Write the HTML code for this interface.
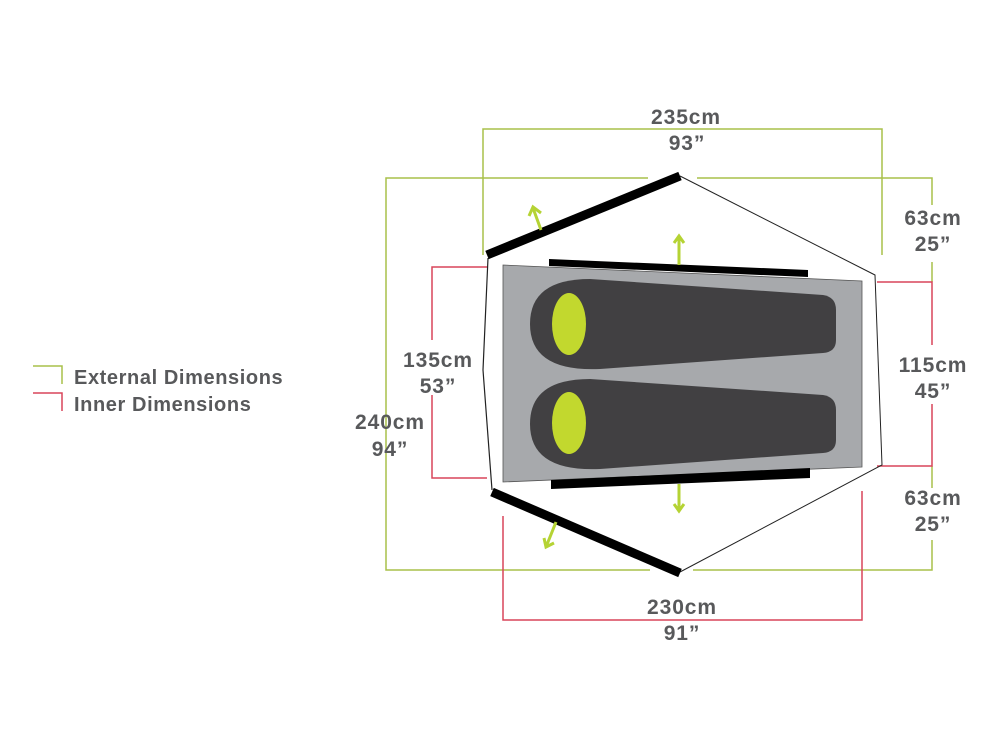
<!DOCTYPE html>
<html><head><meta charset="utf-8"><style>
html,body{margin:0;padding:0;background:#fff;}
svg{display:block;}
text{font-family:"Liberation Sans",sans-serif;font-weight:bold;fill:#58595b;font-size:21px;letter-spacing:0.9px;}
text.lg{font-size:20px;letter-spacing:0.6px;}
</style></head><body>
<svg width="1000" height="739" viewBox="0 0 1000 739">
<g fill="none" stroke="#a9c04a" stroke-width="1.5">
<polyline points="648,178 386,178 386,570 650,570"/>
<polyline points="697,178 932,178 932,205"/>
<line x1="932" y1="262" x2="932" y2="282"/>
<line x1="932" y1="488" x2="932" y2="466"/>
<polyline points="693,570 932,570 932,540"/>
<polyline points="483,255 483,129 882,129 882,255"/>
<polyline points="33,366 62,366 62,384"/>
</g>
<g fill="none" stroke="#d9455a" stroke-width="1.5">
<polyline points="487,267 432,267 432,340"/>
<polyline points="432,395 432,478 487,478"/>
<polyline points="877,282 932,282 932,345"/>
<polyline points="932,404 932,466 877,466"/>
<polyline points="503,516 503,620 862,620 862,491"/>
<polyline points="33,393 62,393 62,411"/>
</g>
<polyline points="680,176 875,275 882,465 680,572" fill="none" stroke="#222" stroke-width="1"/>
<polyline points="488,258 483,370 492,490" fill="none" stroke="#222" stroke-width="1.2"/>
<polygon points="503,265 862,281 862,467 503,482" fill="#a7a9ac" stroke="#555" stroke-width="0.8"/>
<polygon points="549,259 808,270 808,277 549,266" fill="#000"/>
<polygon points="551,480 810,468 810,478 551,489" fill="#000"/>
<line x1="487" y1="255" x2="680" y2="176" stroke="#000" stroke-width="9"/>
<line x1="492" y1="492" x2="680" y2="573" stroke="#000" stroke-width="9"/>
<path d="M590,279 L823,295 Q836,297 836,310 L836,340 Q836,352 823,353 L600,369 Q530,372 530,324 Q530,279 590,279 Z" fill="#414042"/>
<path d="M590,379 L823,395 Q836,397 836,410 L836,440 Q836,452 823,453 L600,469 Q530,472 530,424 Q530,379 590,379 Z" fill="#414042"/>
<ellipse cx="569" cy="324" rx="17" ry="31" fill="#c2d82e"/>
<ellipse cx="569" cy="423" rx="17" ry="31" fill="#c2d82e"/>
<g stroke="#b5d334" stroke-width="3" fill="none">
<line x1="541" y1="230" x2="533" y2="208"/><polyline points="529,216 533,207 541,213"/>
<line x1="679" y1="265" x2="679" y2="236"/><polyline points="674,243 679,236 684,243"/>
<line x1="679" y1="484" x2="679" y2="511"/><polyline points="674,504 679,511 684,504"/>
<line x1="556" y1="522" x2="546" y2="547"/><polyline points="544,538 546,547 554,543"/>
</g>
<text x="686" y="124" text-anchor="middle">235cm</text>
<text x="687" y="150" text-anchor="middle">93”</text>
<text x="933" y="225" text-anchor="middle">63cm</text>
<text x="933" y="251" text-anchor="middle">25”</text>
<text x="933" y="372" text-anchor="middle">115cm</text>
<text x="933" y="398" text-anchor="middle">45”</text>
<text x="933" y="505" text-anchor="middle">63cm</text>
<text x="933" y="531" text-anchor="middle">25”</text>
<text x="682" y="614" text-anchor="middle">230cm</text>
<text x="682" y="640" text-anchor="middle">91”</text>
<text x="438" y="367" text-anchor="middle">135cm</text>
<text x="438" y="393" text-anchor="middle">53”</text>
<text x="390" y="429" text-anchor="middle">240cm</text>
<text x="390" y="456" text-anchor="middle">94”</text>
<text class="lg" x="74" y="384">External Dimensions</text>
<text class="lg" x="74" y="411">Inner Dimensions</text>
</svg>
</body></html>
